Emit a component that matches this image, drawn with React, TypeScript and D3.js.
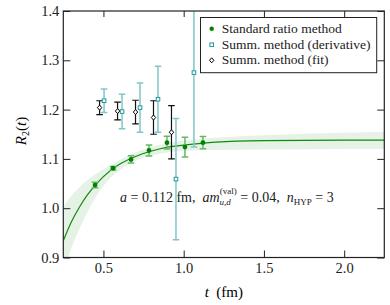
import React, { useEffect, useRef } from "react";
import * as d3 from "d3";

// standard ratio method
const stdT = [0.448, 0.56, 0.672, 0.784, 0.896, 1.008, 1.12];
const stdR = [1.047, 1.081, 1.099, 1.117, 1.133, 1.124, 1.133];
const stdErr = [0.0055, 0.0035, 0.0075, 0.011, 0.013, 0.02, 0.0125];

// summation method (derivative)
const derivT = [0.504, 0.616, 0.728, 0.84, 0.952, 1.064];
const derivR = [1.218, 1.196, 1.204, 1.221, 1.059, 1.275];
const derivErr = [0.024, 0.035, 0.05, 0.067, 0.123, 0.151];

// summation method (fit)
const sfitT = [0.476, 0.588, 0.7, 0.812, 0.924];
const sfitR = [1.204, 1.197, 1.195, 1.184, 1.154];
const sfitErr = [0.014, 0.018, 0.024, 0.034, 0.054];

// fit curve + band
const curveT = [0.25, 0.3, 0.35, 0.4, 0.45, 0.5, 0.6, 0.7, 0.8, 0.9, 1.0, 1.2, 1.5, 2.0, 2.25];
const curveR = [0.934, 0.972, 1.002, 1.027, 1.047, 1.064, 1.089, 1.105, 1.116, 1.124, 1.128, 1.134, 1.137, 1.138, 1.138];
const curveHi = [1.003, 1.025, 1.042, 1.057, 1.069, 1.079, 1.098, 1.113, 1.124, 1.132, 1.137, 1.143, 1.148, 1.153, 1.155];
const curveLo = [0.862, 0.918, 0.958, 0.992, 1.021, 1.045, 1.077, 1.096, 1.107, 1.113, 1.116, 1.118, 1.119, 1.12, 1.12];

const xTicks = [0.5, 1.0, 1.5, 2.0];
const yTicks = [0.9, 1.0, 1.1, 1.2, 1.3, 1.4];
const legendLabels = ["Standard ratio method", "Summ. method (derivative)", "Summ. method (fit)"];

const W = 390;
const H = 305;
const FONT = '"Liberation Serif", "DejaVu Serif", "Noto Serif", serif';

export default function App() {
  const ref = useRef<SVGSVGElement>(null);

  useEffect(() => {
    const svg = d3.select(ref.current);
    svg.selectAll("*").remove();

    const x = d3.scaleLinear().domain([0.25, 2.25]).range([63.3, 384.3]);
    const y = d3.scaleLinear().domain([0.9, 1.4]).range([257.5, 11]);

    svg.append("defs").append("clipPath").attr("id", "plotclip")
      .append("rect")
      .attr("x", x(0.25)).attr("y", y(1.4))
      .attr("width", x(2.25) - x(0.25)).attr("height", y(0.9) - y(1.4));

    const plot = svg.append("g").attr("clip-path", "url(#plotclip)");

    // band
    const area = d3.area<number>()
      .x((d, i) => x(curveT[i]))
      .y0((d, i) => y(curveLo[i]))
      .y1((d, i) => y(curveHi[i]))
      .curve(d3.curveMonotoneX);
    plot.append("path").attr("d", area(curveT)).attr("fill", "#008000").attr("fill-opacity", 0.1);

    const line = d3.line<number>()
      .x((d, i) => x(curveT[i]))
      .y((d, i) => y(curveR[i]))
      .curve(d3.curveMonotoneX);
    plot.append("path").attr("d", line(curveT)).attr("fill", "none")
      .attr("stroke", "#118a11").attr("stroke-width", 1.2);

    const errBars = (ts: number[], vs: number[], es: number[], color: string, w: number) => {
      const g = plot.append("g").attr("stroke", color).attr("stroke-width", w);
      ts.forEach((t, i) => {
        const cx = x(t);
        g.append("line").attr("x1", cx).attr("x2", cx)
          .attr("y1", y(vs[i] - es[i])).attr("y2", y(vs[i] + es[i]));
        [vs[i] - es[i], vs[i] + es[i]].forEach(v => {
          g.append("line").attr("x1", cx - 3.3).attr("x2", cx + 3.3)
            .attr("y1", y(v)).attr("y2", y(v));
        });
      });
    };

    errBars(derivT, derivR, derivErr, "#80c6c8", 1.5);
    errBars(sfitT, sfitR, sfitErr, "#111", 1.2);
    errBars(stdT, stdR, stdErr, "#66b866", 1.5);

    // markers
    plot.append("g").selectAll("circle").data(stdT).join("circle")
      .attr("cx", d => x(d)).attr("cy", (d, i) => y(stdR[i])).attr("r", 2.4)
      .attr("fill", "#008000");

    plot.append("g").selectAll("rect").data(derivT).join("rect")
      .attr("x", d => x(d) - 1.8).attr("y", (d, i) => y(derivR[i]) - 1.8)
      .attr("width", 3.6).attr("height", 3.6)
      .attr("fill", "white").attr("stroke", "#1a9a9c").attr("stroke-width", 1);

    const diamond = (cx: number, cy: number) =>
      `M${cx},${cy - 2.5}L${cx + 2.2},${cy}L${cx},${cy + 2.5}L${cx - 2.2},${cy}Z`;
    plot.append("g").selectAll("path").data(sfitT).join("path")
      .attr("d", (d, i) => diamond(x(d), y(sfitR[i])))
      .attr("fill", "white").attr("stroke", "#000").attr("stroke-width", 1);

    // axes, ticks inward
    const axisStyle = (g: d3.Selection<SVGGElement, unknown, null, undefined>) => {
      g.select(".domain").remove();
      g.attr("font-family", null).attr("font-size", null);
      g.selectAll(".tick line").attr("stroke", "#222");
      g.selectAll("text").attr("fill", "#222").style("font-family", FONT).style("font-size", "14.5px");
    };

    svg.append("g").attr("transform", `translate(0,${y(0.9)})`)
      .call(d3.axisBottom(x).tickValues(xTicks).tickSizeInner(-7).tickSizeOuter(0).tickPadding(5)
        .tickFormat(d3.format(".1f")))
      .call(axisStyle);
    svg.append("g").attr("transform", `translate(0,${y(1.4)})`)
      .call(d3.axisTop(x).tickValues(xTicks).tickSizeInner(-6).tickSizeOuter(0).tickFormat(() => ""))
      .call(axisStyle);
    svg.append("g").attr("transform", `translate(${x(0.25)},0)`)
      .call(d3.axisLeft(y).tickValues(yTicks).tickSizeInner(-7).tickSizeOuter(0).tickPadding(4)
        .tickFormat(d3.format(".1f")))
      .call(axisStyle);
    svg.append("g").attr("transform", `translate(${x(2.25)},0)`)
      .call(d3.axisRight(y).tickValues(yTicks).tickSizeInner(-7).tickSizeOuter(0).tickFormat(() => ""))
      .call(axisStyle);

    svg.append("rect")
      .attr("x", x(0.25)).attr("y", y(1.4))
      .attr("width", x(2.25) - x(0.25)).attr("height", y(0.9) - y(1.4))
      .attr("fill", "none").attr("stroke", "#222").attr("stroke-width", 1.2);

    // axis titles
    svg.append("text")
      .attr("x", (x(0.25) + x(2.25)) / 2).attr("y", 296.5)
      .attr("text-anchor", "middle").style("font-family", FONT).style("font-size", "15px")
      .call(t => {
        t.append("tspan").attr("font-style", "italic").text("t");
        t.append("tspan").text("\u00a0\u00a0(fm)");
      });

    svg.append("text")
      .attr("transform", "translate(26,131) rotate(-90)")
      .attr("text-anchor", "middle").style("font-family", FONT).style("font-size", "15px")
      .call(t => {
        t.append("tspan").attr("font-style", "italic").text("R");
        t.append("tspan").style("font-size", "10px").attr("dy", 3).text("2");
        t.append("tspan").attr("dy", -3).text("(");
        t.append("tspan").attr("font-style", "italic").text("t");
        t.append("tspan").text(")");
      });

    // annotation
    svg.append("text")
      .attr("x", 120).attr("y", 201.5)
      .style("font-family", FONT).style("font-size", "14px").attr("fill", "#222")
      .call(t => {
        t.append("tspan").attr("font-style", "italic").text("a");
        t.append("tspan").text(" = 0.112 fm,\u00a0\u00a0");
        t.append("tspan").attr("font-style", "italic").text("am");
        t.append("tspan").style("font-size", "9px").attr("font-style", "italic").attr("dy", 3).text("u,d");
        t.append("tspan").style("font-size", "9px").attr("dx", -11).attr("dy", -11).text("(val)");
        t.append("tspan").attr("dy", 8).text(" = 0.04,\u00a0\u00a0");
        t.append("tspan").attr("font-style", "italic").text("n");
        t.append("tspan").style("font-size", "9px").attr("dy", 3).text("HYP");
        t.append("tspan").attr("dy", -3).text(" = 3");
      });

    // legend
    const lg = svg.append("g");
    lg.append("rect")
      .attr("x", 200.5).attr("y", 17.5).attr("width", 176.2).attr("height", 55.2)
      .attr("fill", "white").attr("stroke", "#222").attr("stroke-width", 1);
    const rows = [28.7, 44.7, 60.3];
    lg.append("circle").attr("cx", 211.7).attr("cy", rows[0]).attr("r", 2.2).attr("fill", "#008000");
    lg.append("rect").attr("x", 211.7 - 1.8).attr("y", rows[1] - 1.8).attr("width", 3.6).attr("height", 3.6)
      .attr("fill", "white").attr("stroke", "#1a9a9c");
    lg.append("path").attr("d", diamond(211.7, rows[2])).attr("fill", "white").attr("stroke", "#000");
    lg.selectAll("text.lab").data(legendLabels).join("text")
      .attr("class", "lab")
      .attr("x", 221.7).attr("y", (d, i) => rows[i] + 4)
      .style("font-family", FONT).style("font-size", "13.5px").attr("fill", "#222")
      .text(d => d);
  }, []);

  return (
    <svg ref={ref} width={W} height={H}
      style={{ position: "absolute", left: 0, top: 0, background: "white" }} />
  );
}
